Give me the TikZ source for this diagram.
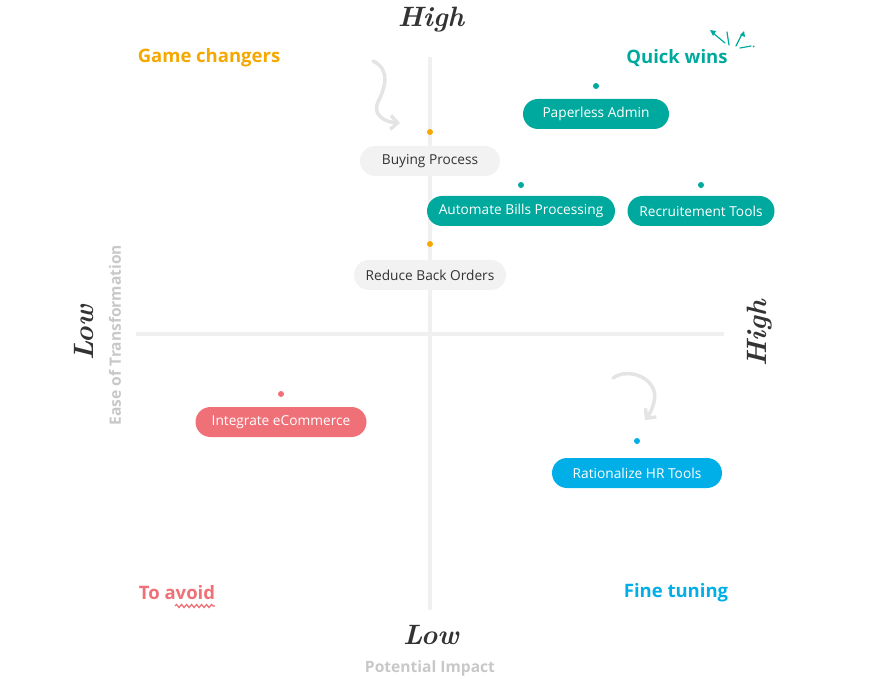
\documentclass[tikz,border=0pt]{standalone}
\usepackage{fontspec}
\setmainfont{Open Sans}
\usetikzlibrary{arrows.meta,decorations.pathmorphing}
\definecolor{teal}{HTML}{00A99D}
\definecolor{orng}{HTML}{F5A800}
\definecolor{pinkc}{HTML}{F07078}
\definecolor{bluec}{HTML}{00AEE8}
\definecolor{axisc}{HTML}{F0F0F0}
\definecolor{pillg}{HTML}{F2F2F2}
\definecolor{arrowc}{HTML}{E4E4E4}
\definecolor{labelg}{HTML}{C8C8C8}
\definecolor{darkt}{HTML}{333333}
\begin{document}
\begin{tikzpicture}[x=1pt,y=-1pt,
  pill/.style={rounded corners=15pt,minimum height=30pt,inner xsep=0pt,font=\fontsize{13.7}{15}\selectfont,text=white},
  dotm/.style={circle,inner sep=0pt,minimum size=6pt},
  hand/.style={font=\fontsize{28}{30}\selectfont\fontspec{Latin Modern Roman}\bfseries\itshape,text=darkt},
  quad/.style={font=\fontsize{18.5}{21}\selectfont\bfseries},
  axlabel/.style={font=\fontsize{15.6}{18}\selectfont\bfseries,text=labelg},
  curlyarrow/.style={draw=arrowc,line width=3.5pt,line cap=round,-{Straight Barb[length=7pt,width=14pt,line width=3.5pt]}}
]
\useasboundingbox (0,0) rectangle (871,679);
% axes
\coordinate (vt) at (430,57); \coordinate (vb) at (430,610);
\coordinate (hl) at (136,334); \coordinate (hr) at (724,334);
\draw[axisc,line width=4pt] (vt) -- (vb);
\draw[axisc,line width=4pt] (hl) -- (hr);
% axis end labels
\node[hand] (hightop) at (431,20) {High};
\node[hand] (lowbot) at (431,635) {Low};
\node[hand,rotate=90] (lowleft) at (84,333) {Low};
\node[hand,rotate=90] (highright) at (760,333) {High};
\node[axlabel,rotate=90] (ease) at (115,335) {Ease of Transformation};
\node[axlabel] (pot) at (430,668) {Potential Impact};
% quadrant titles
\node[quad,text=orng] (gc) at (209,58) {Game changers};
\node[quad,text=teal] (qw) at (677,58) {Quick wins};
\node[quad,text=pinkc] (ta) at (177,593) {To avoid};
\node[quad,text=bluec] (ft) at (676,593) {Fine tuning};
% wavy underline
\coordinate (wv1) at (175,606); \coordinate (wv2) at (215,606);
\draw[pinkc,line width=1.3pt,decorate,decoration={snake,amplitude=1.5pt,segment length=5pt}] (wv1) -- (wv2);
% sparkles
\coordinate (s1a) at (713,33); \coordinate (s1b) at (725,43);
\coordinate (s2a) at (727,32); \coordinate (s2b) at (729,45);
\coordinate (s3a) at (742,34); \coordinate (s3b) at (736,46);
\coordinate (s4a) at (740,48); \coordinate (s4b) at (751,46);
\begin{scope}[teal,line width=1.2pt,line cap=round]
\draw (s1a) -- (s1b); \draw (s2a) -- (s2b); \draw (s3a) -- (s3b); \draw (s4a) -- (s4b);
\fill (710,30) -- (716,31) -- (713,36) -- cycle;
\fill (744,31) -- (745,37) -- (740,35) -- cycle;
\fill (753.5,46.5) circle (1pt);
\end{scope}
% pills and dots
\node[pill,fill=teal,minimum width=146pt] (pa) at (596,114) {Paperless Admin};
\node[dotm,fill=teal] (dpa) at (596,86) {};
\node[pill,fill=pillg,text=darkt,minimum width=140pt] (bp) at (430,161) {Buying Process};
\node[dotm,fill=orng] (dbp) at (430,132) {};
\node[pill,fill=teal,minimum width=188pt] (ab) at (521,211) {Automate Bills Processing};
\node[dotm,fill=teal] (dab) at (521,185) {};
\node[pill,fill=teal,minimum width=147pt] (rt) at (701,211) {Recruitement Tools};
\node[dotm,fill=teal] (drt) at (701,185) {};
\node[pill,fill=pillg,text=darkt,minimum width=152pt] (rb) at (430,275) {Reduce Back Orders};
\node[dotm,fill=orng] (drb) at (430,244) {};
\node[pill,fill=pinkc,minimum width=171pt] (ie) at (281,422) {Integrate eCommerce};
\node[dotm,fill=pinkc] (die) at (281,394) {};
\node[pill,fill=bluec,minimum width=170pt] (hr) at (637,473) {Rationalize HR Tools};
\node[dotm,fill=bluec] (dhr) at (637,441) {};
% curly arrows
\coordinate (c1s) at (373,61); \coordinate (c1e) at (400,123);
\draw[curlyarrow] (c1s) .. controls (392,70) and (384,90) .. (378,102) .. controls (372,114) and (384,122) .. (c1e);
\coordinate (c2s) at (613,378); \coordinate (c2e) at (645,420);
\draw[curlyarrow] (c2s) .. controls (630,366) and (660,380) .. (654,402) .. controls (652,410) and (649,415) .. (c2e);
\end{tikzpicture}
\end{document}
